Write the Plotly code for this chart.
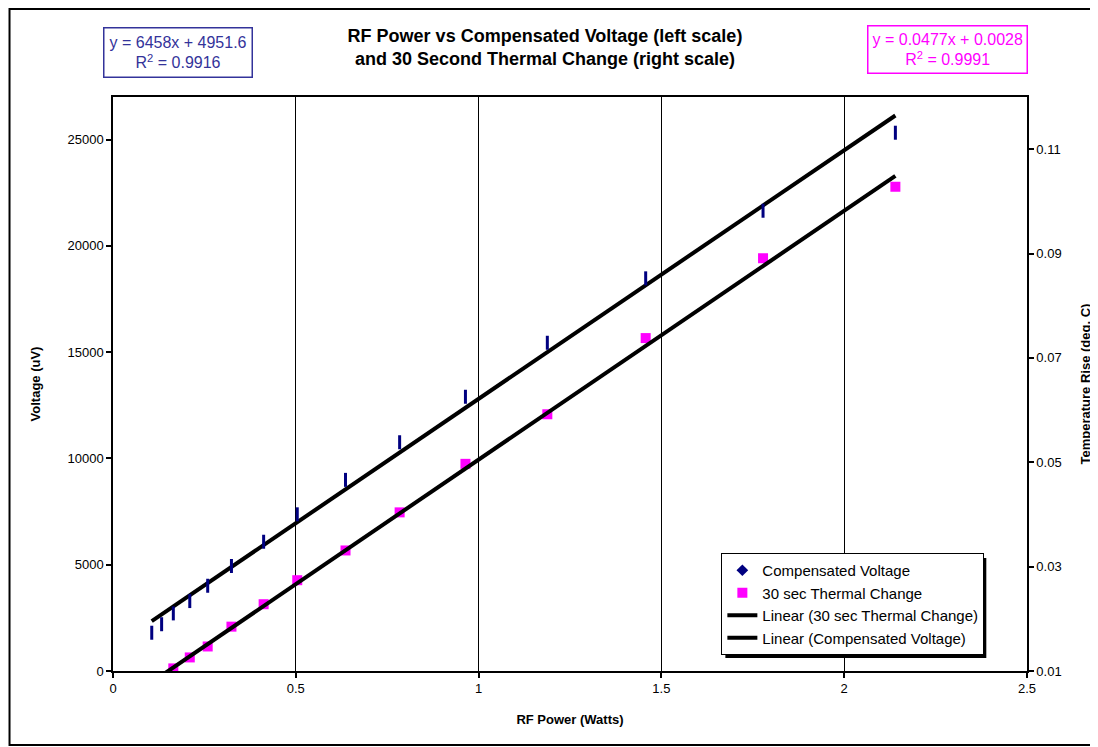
import numpy as np
import plotly.graph_objects as go

# RF power (W) for every measurement
power_w = [0.106, 0.133, 0.165, 0.210, 0.259, 0.324, 0.412, 0.504,
           0.636, 0.784, 0.964, 1.188, 1.457, 1.778, 2.140]

# compensated voltage (uV), left scale
voltage_uv = [1800, 2200, 2710, 3290, 4010, 4940, 6080, 7370,
              8990, 10760, 12900, 15440, 18470, 21650, 25320]

# 30 s thermal change (deg C), right scale (first two are below the axis)
thermal_power_w = power_w[2:]
thermal_c = [0.0105, 0.0126, 0.0147, 0.0185, 0.0228, 0.0274, 0.0331,
             0.0404, 0.0497, 0.0592, 0.0738, 0.0891, 0.1028]

# equations as printed on the chart
thermal_slope, thermal_icpt = 0.0477, 0.0028
voltage_eq = "y = 6458x + 4951.6<br>R<sup>2</sup> = 0.9916"
thermal_eq = "y = 0.0477x + 0.0028<br>R<sup>2</sup> = 0.9991"

x_ticks = [0, 0.5, 1, 1.5, 2, 2.5]
left_ticks = [0, 5000, 10000, 15000, 20000, 25000]
right_ticks = [0.01, 0.03, 0.05, 0.07, 0.09, 0.11]

FONT = "Arial, Liberation Sans, sans-serif"
NAVY = "#000080"
MAGENTA = "#FF00FF"

# page is 1098x747, the html body adds an 8px margin
W, H, OFF = 1098, 747, 8
# plot area in page pixels
PL, PR, PT, PB = 112.5, 1026.7, 97, 671


def px(x):
    return (x - PL) / (PR - PL)


def py(y):
    return (PB - y) / (PB - PT)


# trend lines
trend_x = [power_w[0], power_w[-1]]
v_slope, v_icpt = np.polyfit(power_w, voltage_uv, 1)
v_trend = [v_slope * x + v_icpt for x in trend_x]
t_trend = [thermal_slope * x + thermal_icpt for x in trend_x]

fig = go.Figure()

# legend-only entry with the diamond symbol
fig.add_trace(go.Scatter(
    x=[None], y=[None], mode="markers", name="Compensated Voltage",
    marker=dict(symbol="diamond", size=9, color=NAVY),
))
fig.add_trace(go.Scatter(
    x=thermal_power_w, y=thermal_c, mode="markers", name="30 sec Thermal Change",
    yaxis="y2", marker=dict(symbol="square", size=10, color=MAGENTA),
))
fig.add_trace(go.Scatter(
    x=trend_x, y=t_trend, mode="lines", name="Linear (30 sec Thermal Change)",
    yaxis="y2", line=dict(color="black", width=4),
))
fig.add_trace(go.Scatter(
    x=trend_x, y=v_trend, mode="lines", name="Linear (Compensated Voltage)",
    line=dict(color="black", width=4),
))
# actual voltage points drawn as short dashes
fig.add_trace(go.Scatter(
    x=power_w, y=voltage_uv, mode="markers", showlegend=False,
    marker=dict(symbol="line-ns", size=10, color=NAVY,
                line=dict(color=NAVY, width=3)),
))

axis_common = dict(
    showline=True, linecolor="black", linewidth=1.5,
    ticks="outside", ticklen=5, tickcolor="black", tickwidth=1.5,
    tickfont=dict(size=13, color="black", family=FONT),
    zeroline=False, automargin=False,
)

fig.update_layout(
    width=W - OFF, height=H - OFF,
    margin=dict(l=PL - OFF, r=W - PR, t=PT - OFF, b=H - PB),
    paper_bgcolor="white", plot_bgcolor="white",
    font=dict(family=FONT, color="black"),
    title=dict(
        text="RF Power vs Compensated Voltage (left scale)<br>and 30 Second Thermal Change (right scale)",
        x=(545 - OFF) / (W - OFF), xanchor="center",
        y=1 - (42 - OFF) / (H - OFF), yanchor="middle",
        font=dict(size=18, family=FONT, color="black", weight="bold"),
    ),
    xaxis=dict(
        axis_common, range=[0, 2.5], tickvals=x_ticks,
        ticktext=[str(t) for t in x_ticks],
        showgrid=True, gridcolor="black", gridwidth=1,
        mirror=True,
        title=dict(text="<b>RF Power (Watts)</b>", standoff=20,
                   font=dict(size=13, family=FONT, color="black")),
    ),
    yaxis=dict(
        axis_common, range=[0, 27000], tickvals=left_ticks,
        ticktext=[str(t) for t in left_ticks],
        showgrid=False,
        title=dict(text="<b>Voltage (uV)</b>", standoff=24,
                   font=dict(size=13, family=FONT, color="black")),
    ),
    yaxis2=dict(
        axis_common, range=[0.01, 0.12], tickvals=right_ticks,
        ticktext=[f"{t:g}" for t in right_ticks],
        overlaying="y", side="right", showgrid=False,
        title=dict(text="<b>Temperature Rise (deg. C)</b>", standoff=20,
                   font=dict(size=13, family=FONT, color="black")),
    ),
    legend=dict(
        x=px(721), y=py(553), xanchor="left", yanchor="top",
        bgcolor="white", bordercolor="black", borderwidth=1,
        font=dict(size=15, family=FONT, color="black"),
        tracegroupgap=0, itemwidth=30,
    ),
    shapes=[
        # legend drop shadow
        dict(type="rect", xref="paper", yref="paper", layer="below",
             x0=px(725), x1=px(986), y0=py(658), y1=py(558),
             fillcolor="black", line=dict(width=0)),
        # outer chart border
        dict(type="rect", xref="paper", yref="paper",
             x0=px(OFF + 1), x1=px(W - 2), y0=py(H - 2), y1=py(OFF + 1),
             line=dict(color="black", width=2)),
    ],
    annotations=[
        dict(text=voltage_eq, xref="paper", yref="paper",
             x=px(178), y=py(53), xanchor="center", yanchor="middle",
             showarrow=False, align="center",
             font=dict(size=16, family=FONT, color="#33339A"),
             bordercolor="#33339A", borderwidth=1.5, borderpad=5,
             bgcolor="white"),
        dict(text=thermal_eq, xref="paper", yref="paper",
             x=px(947), y=py(50), xanchor="center", yanchor="middle",
             showarrow=False, align="center",
             font=dict(size=16, family=FONT, color=MAGENTA),
             bordercolor=MAGENTA, borderwidth=1.5, borderpad=4,
             bgcolor="white"),
    ],
)

fig.write_html("out.html")
